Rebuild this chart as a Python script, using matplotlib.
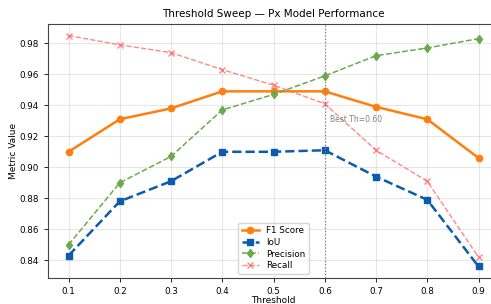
import matplotlib.pyplot as plt

# threshold sweep results
thresholds = [0.1, 0.2, 0.3, 0.4, 0.5, 0.6, 0.7, 0.8, 0.9]
f1 = [0.910, 0.931, 0.938, 0.949, 0.949, 0.949, 0.939, 0.931, 0.906]
iou = [0.843, 0.878, 0.891, 0.910, 0.910, 0.911, 0.894, 0.879, 0.836]
precision = [0.850, 0.890, 0.907, 0.937, 0.947, 0.959, 0.972, 0.977, 0.983]
recall = [0.985, 0.979, 0.974, 0.963, 0.953, 0.941, 0.911, 0.891, 0.842]
best_th = 0.6

fig = plt.figure(figsize=(4.91, 3.04), dpi=100)
ax = fig.add_axes([0.0978, 0.0855, 0.9185, 0.8355])

ax.plot(thresholds, f1, "-o", color="#ff7f0e", lw=1.8, ms=4.5, label="F1 Score")
ax.plot(thresholds, iou, "--s", color="#0b5cad", lw=1.8, ms=4.5, label="IoU")
ax.plot(thresholds, precision, "--d", color="#6aaa4a", lw=1.1, ms=4.5, label="Precision")
ax.plot(thresholds, recall, "--x", color="#ff6b6b", lw=1.0, ms=4.5, alpha=0.8, label="Recall")

ax.axvline(best_th, color="gray", ls=":", lw=0.9)
ax.text(best_th + 0.01, 0.931, f"Best Th={best_th:.2f}", color="gray", fontsize=5.5,
        va="center", ha="left")

ax.set_xticks(thresholds)
ax.tick_params(labelsize=6.3, length=3, width=0.6)
ax.set_xlabel("Threshold", fontsize=6.5, labelpad=0)
ax.set_ylabel("Metric Value", fontsize=6.5, labelpad=1)
ax.set_title("Threshold Sweep — Px Model Performance", fontsize=7.5, pad=5)
ax.grid(True, alpha=0.3)
for s in ax.spines.values():
    s.set_color("#444444")
ax.legend(loc="lower center", fontsize=6.3, handlelength=2.0,
          labelspacing=0.3, borderpad=0.4)

fig.savefig("out.png", dpi=100)
